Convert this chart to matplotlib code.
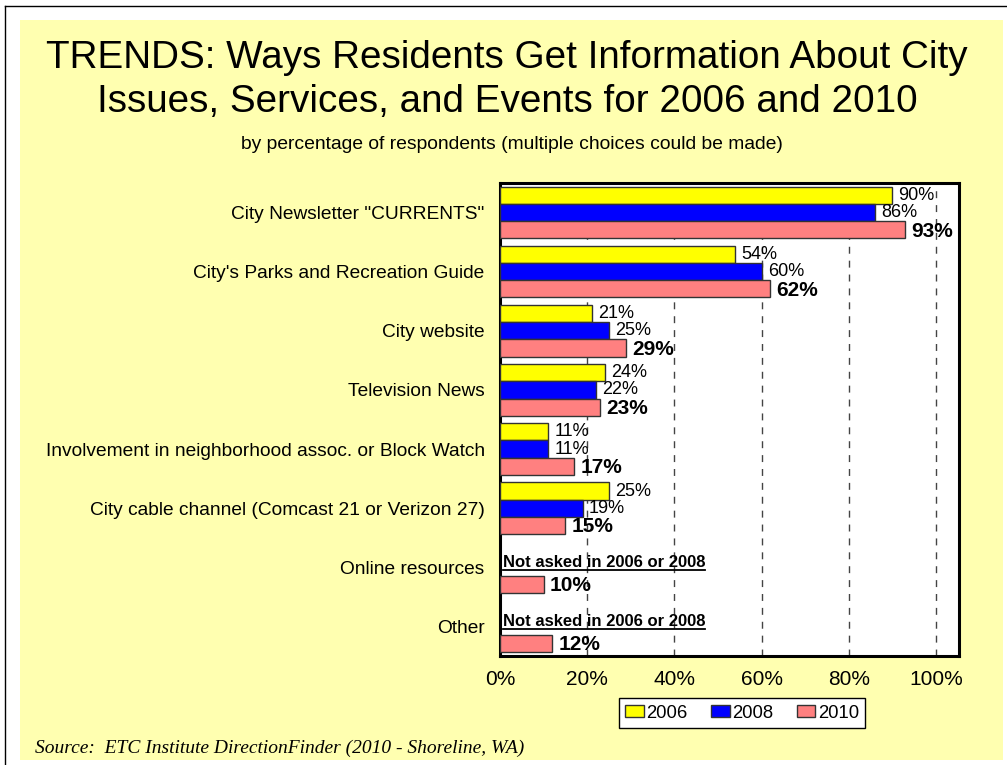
import numpy as np
import matplotlib
matplotlib.use("Agg")
import matplotlib.pyplot as plt
from matplotlib.patches import Rectangle
from matplotlib.lines import Line2D

plt.rcParams['font.family'] = ['Liberation Sans', 'DejaVu Sans']

# data
categories = ['City Newsletter "CURRENTS"', "City's Parks and Recreation Guide",
              'City website', 'Television News',
              'Involvement in neighborhood assoc. or Block Watch',
              'City cable channel (Comcast 21 or Verizon 27)',
              'Online resources', 'Other']
years = ['2006', '2008', '2010']
v2006 = [90, 54, 21, 24, 11, 25, None, None]
v2008 = [86, 60, 25, 22, 11, 19, None, None]
v2010 = [93, 62, 29, 23, 17, 15, 10, 12]
xticks = [0, 20, 40, 60, 80, 100]

colors = ['#FFFF00', '#0000FF', '#FF8080']
W, H = 1007, 765

fig = plt.figure(figsize=(W / 100, H / 100), dpi=100)
fig.patch.set_facecolor('white')

# yellow slide panel and outer frame
fig.add_artist(Rectangle((20 / W, 1 - 760 / H), 983 / W, 740 / H, transform=fig.transFigure,
                         facecolor='#FFFFB0', edgecolor='none', zorder=0))
fig.add_artist(Line2D([4.5 / W, 1], [1 - 5.5 / H] * 2, transform=fig.transFigure, color='black', lw=1))
fig.add_artist(Line2D([4.5 / W] * 2, [0, 1 - 5.5 / H], transform=fig.transFigure, color='black', lw=1))

ax = fig.add_axes([500 / W, 1 - 656 / H, 459 / W, 473 / H])
ax.set_facecolor('white')

h = 0.29
y = np.arange(len(categories))
series = [v2006, v2008, v2010]
for k, vals in enumerate(series):
    idx = [i for i, v in enumerate(vals) if v is not None]
    vv = [vals[i] for i in idx]
    pos = y[idx] + (k - 1) * h
    ax.barh(pos, vv, height=h, color=colors[k], edgecolor='#333333', linewidth=1,
            label=years[k], zorder=3)
    for p, v in zip(pos, vv):
        if k == 2:
            ax.annotate(f'{v}%', (v, p), xytext=(4.5, -1), textcoords='offset points',
                        va='center', fontsize=15, fontweight='bold', zorder=4)
        else:
            ax.annotate(f'{v}%', (v, p), xytext=(4.5, 0), textcoords='offset points',
                        va='center', fontsize=13, zorder=4)

ax.set_ylim(len(categories) - 0.5, -0.5)
ax.set_xlim(0, 105.3)
ax.set_yticks(y)
ax.set_yticklabels(categories)
ax.set_xticks(xticks)
ax.set_xticklabels([f'{t}%' for t in xticks])
ax.tick_params(axis='x', length=0, pad=10, labelsize=15)
ax.tick_params(axis='y', length=0, pad=11, labelsize=13.75)
ax.xaxis.grid(True, linestyle=(0, (5, 5)), color='#444444', lw=1)
ax.set_axisbelow(True)
for s in ax.spines.values():
    s.set_linewidth(2.2)

# "not asked" notes with underline
notes = []
for i, v in enumerate(v2006):
    if v is None:
        t = ax.text(0.6, i + 0.0, 'Not asked in 2006 or 2008', fontsize=12,
                    fontweight='bold', va='baseline', ha='left', zorder=4)
        notes.append((i, t))
fig.canvas.draw()
r = fig.canvas.get_renderer()
inv = ax.transData.inverted()
for i, t in notes:
    bb = t.get_window_extent(r)
    x0 = inv.transform((bb.x0, 0))[0]
    x1 = inv.transform((bb.x1, 0))[0]
    ax.plot([x0, x1], [i + 0.045] * 2, color='black', lw=1.3, zorder=4)

leg = ax.legend(loc='center', bbox_to_anchor=(742 / W, 1 - 713 / H),
                bbox_transform=fig.transFigure, ncol=3, fontsize=13.3, frameon=True,
                fancybox=False, edgecolor='black', framealpha=1, borderpad=0.35,
                handlelength=1.0, handleheight=0.55, handletextpad=0.12,
                columnspacing=1.3)
leg.get_frame().set_linewidth(1)

fig.text(507 / W, 1 - 68 / H, 'TRENDS: Ways Residents Get Information About City',
         ha='center', va='baseline', fontsize=27.8)
fig.text(507 / W, 1 - 112 / H, 'Issues, Services, and Events for 2006 and 2010',
         ha='center', va='baseline', fontsize=27.8)
fig.text(512 / W, 1 - 149 / H, 'by percentage of respondents (multiple choices could be made)',
         ha='center', va='baseline', fontsize=13.9)
fig.text(35 / W, 1 - 753 / H, 'Source:  ETC Institute DirectionFinder (2010 - Shoreline, WA)',
         ha='left', va='baseline', fontsize=14, style='italic',
         family=['Liberation Serif', 'DejaVu Serif'])

fig.savefig('out.png', dpi=100)
